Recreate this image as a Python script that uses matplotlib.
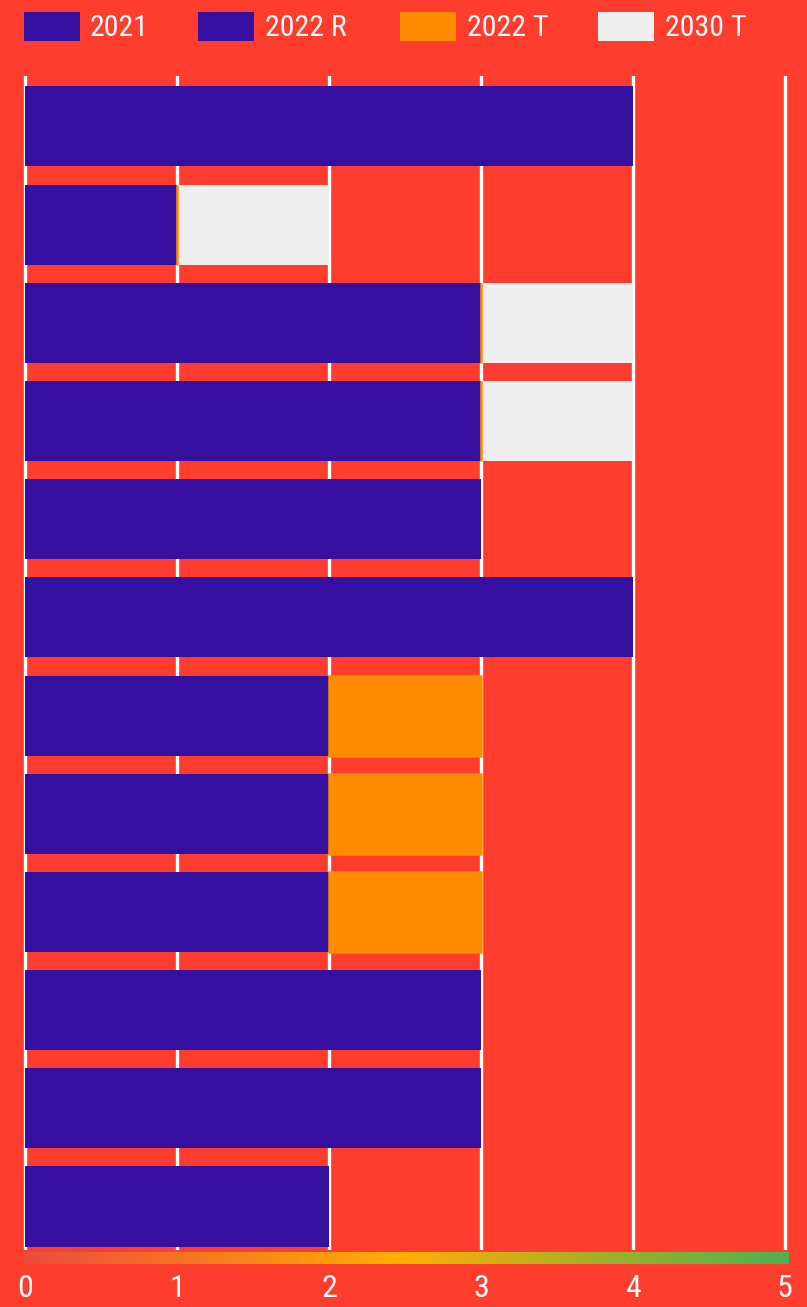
"""Stacked horizontal rating bars with a gradient scale underneath."""

import numpy as np
import matplotlib.pyplot as plt
from matplotlib.colors import LinearSegmentedColormap
from matplotlib.patches import Rectangle

W, H = 807, 1307

# ── colours ───────────────────────────────────────────────────────────
C_BG = "#FF3D2E"
C_2021 = "#3510A0"
C_2022R = "#3510A0"
C_2022T = "#FF8C00"
C_2030T = "#EFEFEF"
FONT = ["Roboto Condensed", "Liberation Sans Narrow", "DejaVu Sans"]
TXT = dict(family=FONT, fontstretch="condensed", color="white")

# ── data (top row first) ──────────────────────────────────────────────
rows = list(range(12))
v2021 = [4, 1, 3, 3, 3, 4, 2, 2, 2, 3, 3, 2]
v2022r = [0, 0, 0, 0, 0, 0, 0, 0, 0, 0, 0, 0]
v2022t = [np.nan, 0, 0, 0, np.nan, np.nan, 1, 1, 1, np.nan, np.nan, np.nan]
v2030t = [0, 1, 1, 1, 0, 0, 0, 0, 0, 0, 0, 0]
ticks = [0, 1, 2, 3, 4, 5]
series = ["2021", "2022 R", "2022 T", "2030 T"]
colors = [C_2021, C_2022R, C_2022T, C_2030T]


def px(x0, y0, x1, y1):
    """pixel box (top-left origin) -> figure fraction rect"""
    return [x0 / W, 1 - y1 / H, (x1 - x0) / W, (y1 - y0) / H]


def main():
    fig = plt.figure(figsize=(W / 100, H / 100), dpi=100, facecolor=C_BG)

    # value 0 sits at x=25px, 1 unit = 152px
    def xv(p):
        return (p - 25) / 152

    ax = fig.add_axes(px(20, 76, 791, 1250))
    ax.set_facecolor(C_BG)
    ax.set_xlim(xv(20), xv(791))
    ax.set_ylim(11.443, -0.514)

    a = np.array(v2021, float)
    b = np.array(v2022r, float)
    c = np.array(v2022t, float)
    d = np.array(v2030t, float)
    hgt = 0.815
    ax.barh(rows, a, height=hgt, color=C_2021, linewidth=0, zorder=2)
    ax.barh(rows, b, left=a, height=hgt, color=C_2022R, linewidth=0, zorder=2)
    ax.barh(rows, c, left=a + b, height=hgt, color=C_2022T,
            edgecolor=C_2022T, linewidth=1.8, zorder=3)
    ax.barh(rows, d, left=a + b + np.nan_to_num(c), height=hgt,
            color=C_2030T, linewidth=0, zorder=2)

    ax.set_xticks(ticks)
    ax.set_yticks([])
    ax.grid(axis="x", color="white", linewidth=2.4)
    ax.set_axisbelow(True)
    ax.tick_params(axis="x", length=0, labelbottom=False)
    for s in ax.spines.values():
        s.set_visible(False)

    # ── gradient scale ────────────────────────────────────────────────
    cmap = LinearSegmentedColormap.from_list(
        "scale", [(0, "#EC4B3C"), (0.49, "#FFB000"), (1, "#4CB050")])
    gx = fig.add_axes(px(24, 1252, 789, 1264))
    gx.imshow(np.linspace(0, 1, 512)[None, :], cmap=cmap, aspect="auto",
              extent=[xv(24), xv(789), 0, 1])
    gx.set_xlim(xv(24), xv(789))
    gx.set_yticks([])
    gx.set_xticks(ticks)
    gx.set_xticklabels([str(t) for t in ticks], fontsize=23, **TXT)
    gx.tick_params(axis="x", length=0, pad=7)
    for s in gx.spines.values():
        s.set_visible(False)

    # ── legend ────────────────────────────────────────────────────────
    patch_x = [24, 198, 400, 598]
    text_x = [90, 265, 467, 665]
    for label, col, x0, tx in zip(series, colors, patch_x, text_x):
        fig.add_artist(Rectangle(px(x0, 12, x0 + 56, 41)[:2], 56 / W, 29 / H,
                                 transform=fig.transFigure,
                                 facecolor=col, edgecolor="none"))
        fig.text(tx / W, 1 - 36.5 / H, label, fontsize=21.5,
                 ha="left", va="baseline", **TXT)

    fig.savefig("out.png", dpi=100, facecolor=C_BG)


if __name__ == "__main__":
    main()
